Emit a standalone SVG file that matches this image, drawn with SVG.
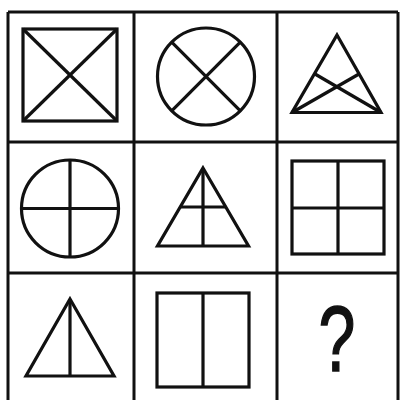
<svg xmlns="http://www.w3.org/2000/svg" width="401" height="400" viewBox="0 0 401 400">
<style>
.g{stroke:#111;stroke-width:3;fill:none}
.s{stroke:#111;stroke-width:3.2;fill:none;stroke-linejoin:miter}
.q{font-family:"Liberation Sans",Arial,sans-serif;font-size:92px;fill:#111;stroke:#111;stroke-width:1.5;text-anchor:middle}
</style>
<rect width="401" height="400" fill="#fff"/>
<g id="grid" class="g">
<line x1="8" y1="12" x2="8" y2="402"/>
<line x1="134" y1="12" x2="134" y2="402"/>
<line x1="277" y1="12" x2="277" y2="402"/>
<line x1="398" y1="12" x2="398" y2="402"/>
<line x1="8" y1="12" x2="398" y2="12"/>
<line x1="8" y1="142" x2="398" y2="142"/>
<line x1="8" y1="273" x2="398" y2="273"/>
</g>
<g id="c1" class="s">
<rect x="23" y="29" width="94" height="92"/>
<line x1="23" y1="29" x2="117" y2="121"/>
<line x1="117" y1="29" x2="23" y2="121"/>
</g>
<g id="c2" class="s">
<circle cx="206" cy="76.5" r="48.5"/>
<line x1="171.7" y1="42.2" x2="240.3" y2="110.8"/>
<line x1="240.3" y1="42.2" x2="171.7" y2="110.8"/>
</g>
<g id="c3" class="s">
<polygon points="337,35 381,112.5 292,112.5"/>
<line x1="292" y1="112.5" x2="359" y2="74"/>
<line x1="381" y1="112.5" x2="315" y2="74"/>
</g>
<g id="c4" class="s">
<circle cx="70" cy="208.5" r="48.5"/>
<line x1="70" y1="160" x2="70" y2="257"/>
<line x1="21.5" y1="208.5" x2="118.5" y2="208.5"/>
</g>
<g id="c5" class="s">
<polygon points="203,168 248.5,246 157.5,246"/>
<line x1="203" y1="168" x2="203" y2="246"/>
<line x1="180.2" y1="207" x2="225.8" y2="207"/>
</g>
<g id="c6" class="s">
<rect x="292" y="161" width="92" height="93"/>
<line x1="338" y1="161" x2="338" y2="254"/>
<line x1="292" y1="208" x2="384" y2="208"/>
</g>
<g id="c7" class="s">
<polygon points="70,299 114,376 26,376"/>
<line x1="70" y1="299" x2="70" y2="376"/>
</g>
<g id="c8" class="s">
<rect x="157" y="293" width="92" height="94"/>
<line x1="203" y1="293" x2="203" y2="387"/>
</g>
<g id="c9">
<text class="q" transform="translate(337,371) scale(0.72,1)" x="0" y="0">?</text>
</g>
</svg>
